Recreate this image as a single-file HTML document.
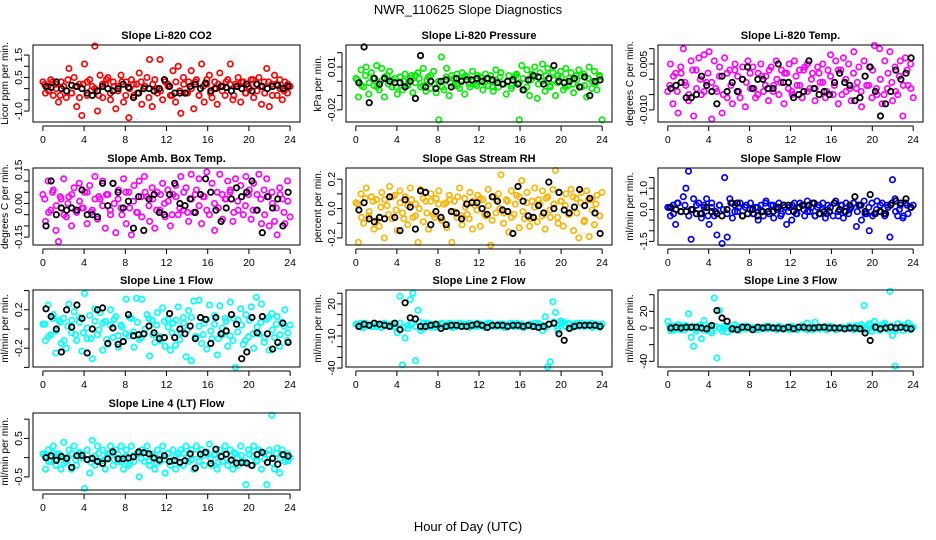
<!DOCTYPE html>
<html><head><meta charset="utf-8"><style>
html,body{margin:0;padding:0;background:#fff}
svg{display:block}
text{font-family:"Liberation Sans",Arial,sans-serif;fill:#000}
</style></head><body>
<svg id="chart" width="936" height="540" viewBox="0 0 936 540" xmlns="http://www.w3.org/2000/svg">
<text x="468" y="14" font-size="13" text-anchor="middle">NWR_110625  Slope Diagnostics</text>
<text x="468" y="531" font-size="13" text-anchor="middle">Hour of Day (UTC)</text>
</svg>
<script>
const xTicks=[0,4,8,12,16,20,24];
const titles=["Slope Li-820 CO2","Slope Li-820 Pressure","Slope Li-820 Temp.","Slope Amb. Box Temp.","Slope Gas Stream RH","Slope Sample Flow","Slope Line 1 Flow","Slope Line 2 Flow","Slope Line 3 Flow","Slope Line 4 (LT) Flow"];
const yTitles=["Licor ppm per min.","kPa per min.","degrees C per min.","degrees C per min.","percent per min.","ml/min per min.","ml/min per min.","ml/min per min.","ml/min per min.","ml/min per min."];
const yTicks=[[-1,-0.5,0,0.5,1,1.5],[-0.02,-0.01,0,0.01,0.02],[-0.01,-0.005,0,0.005,0.01],[-0.15,-0.1,-0.05,0,0.05,0.1,0.15],[-0.2,-0.1,0,0.1,0.2],[-1.5,-1,-0.5,0,0.5,1,1.5],[-0.4,-0.2,0,0.2,0.4],[-40,-30,-20,-10,0,10,20,30],[-40,-20,0,20,40],[-0.5,0,0.5,1]];
const yTickLabels=[["-1.0","","","0.5","","1.5"],["-0.02","","","0.01",""],["-0.010","","","0.005",""],["-0.15","","","0.00","","","0.15"],["-0.2","","0.0","","0.2"],["-1.5","","","0.0","","1.0",""],["","-0.2","","0.2",""],["-40","","","-10","","","20",""],["-40","","0","20",""],["-0.5","","0.5",""]];
const yLims=[[-1.49,1.95],[-0.0285,0.0254],[-0.01395,0.0112],[-0.185,0.158],[-0.248,0.276],[-1.67,1.95],[-0.396,0.406],[-39,33],[-46.8,45.6],[-0.84,1.16]];
const colors=["#ff0000","#00ee00","#ff00ff","#ff00ff","#ffb300","#0000ff","#00ffff","#00ffff","#00ffff","#00ffff"];
const co2=[0.3,-0.2,0.1,0.4,-0.3,0.2,-0.6,0.3,0.1,-0.4,0.9,-0.2,0.5,-0.8,0.2,-1.2,1.1,-0.3,0.4,0.1,1.9,-1.0,0.6,-0.4,0.2,0.5,-0.5,0.3,-0.9,0.1,0.6,-0.6,0.3,-1.3,0.4,-0.3,0.2,0.7,-0.7,0.1,0.5,1.3,-0.8,0.4,-0.2,1.3,-0.5,0.3,0.2,-0.3,0.8,-0.6,1.0,-1.1,0.5,-0.2,0.3,0.8,-0.9,0.4,-0.3,1.1,-0.6,0.2,0.6,-0.4,0.3,-0.7,0.7,0.1,-0.3,0.4,1.1,-0.5,0.2,0.5,-0.6,0.3,-0.2,0.1,0.4,-0.4,0.2,0.5,-0.7,0.3,0.9,-0.8,0.2,0.6,-0.3,0.4,-0.5,0.3,-0.2,0.1];
const co2Core=[0.2,-0.1,0.3,0.0,-0.3,0.1,0.4,-0.2,0.1,-0.4,0.2,0.3,-0.1,0.0,-0.3,0.2,0.4,-0.2,0.1,-0.1,0.3,-0.3,0.0,0.2,-0.2,0.3,0.1,-0.4,0.2,0.0,-0.1,0.4,0.1,-0.3,0.3,-0.1,0.2,-0.2,0.0,0.3,-0.3,0.1,0.4,-0.2,0.0,0.2,-0.1,0.3,0.2,-0.3,0.1,0.3,-0.2,0.0,0.4,-0.1,0.1,-0.2,0.3,-0.3,0.2,0.0,-0.1,0.2];
const co2Ref=[0.1,0.05,0.3,0.0,-0.1,0.15,0.1,0.0,-0.2,-0.3,-0.1,0.1,0.0,-0.1,0.0,0.2,0.05,-0.4,-0.2,0.0,0.0,-0.1,0.0,0.4,0.1,-0.2,-0.2,-0.2,0.1,0.2,0.0,0.25,-0.1,0.0,0.1,0.05,-0.1,0.1,0.0,0.2,-0.1,0.2,0.1,0.0,0.1,0.15,0.0,0.1];
const pres=[0.002,-0.011,0.008,-0.004,0.010,-0.009,0.006,-0.003,0.011,-0.006,0.009,-0.011,0.004,0.007,-0.004,0.002,-0.009,0.003,-0.006,0.005,-0.003,0.002,-0.008,0.004,0.006,-0.004,0.009,-0.007,0.003,-0.005,0.007,-0.008,-0.027,0.017,-0.006,0.009,-0.010,0.004,-0.003,0.005,-0.005,0.006,-0.009,0.003,-0.004,0.007,-0.002,0.004,0.003,-0.006,0.005,-0.003,0.004,-0.007,0.008,-0.004,0.006,-0.002,-0.009,0.004,-0.005,0.003,0.005,-0.027,0.011,-0.006,0.008,-0.010,0.005,0.010,-0.012,0.006,0.012,-0.007,0.009,-0.004,0.006,-0.010,0.004,0.007,-0.006,0.009,-0.003,0.006,-0.008,0.004,0.008,-0.004,0.005,-0.011,0.010,-0.005,0.007,-0.006,0.004,-0.027];
const presCore=[0.001,-0.003,0.004,-0.001,0.002,-0.004,0.000,0.003,-0.002,0.001,-0.004,0.003,0.000,-0.002,0.004,-0.001,0.002,-0.003,0.001,0.004,-0.002,0.000,-0.004,0.003,-0.001,0.002,-0.003,0.001,0.004,-0.002,0.000,-0.003,0.003,-0.001,0.002,-0.004,0.001,0.003,-0.002,0.000,-0.003,0.004,-0.001,0.002,-0.004,0.001,0.003,-0.002,0.000,0.004,-0.003,0.001,-0.001,0.003,-0.004,0.002,-0.002,0.001,0.004,-0.003,0.002,0.000,-0.001,0.003];
const presRef=[-0.001,0.024,-0.015,0.002,-0.002,0.002,0.000,-0.001,-0.001,-0.004,0.000,-0.012,0.018,-0.004,0.000,-0.005,0.000,0.001,-0.004,0.002,0.000,0.001,0.001,0.002,0.000,0.002,0.001,-0.001,-0.002,0.000,0.001,-0.002,-0.006,0.001,0.004,0.003,-0.002,0.002,0.011,0.000,-0.001,0.000,0.002,-0.004,0.003,-0.010,0.000,0.001];
const licTemp=[-0.004,0.005,-0.008,0.002,-0.011,0.004,0.010,-0.002,-0.007,0.006,-0.012,0.003,0.007,-0.005,0.008,-0.001,0.009,-0.013,0.006,-0.004,0.004,-0.011,0.007,-0.006,0.003,-0.008,0.005,0.001,-0.006,0.004,-0.009,0.006,-0.003,0.004,-0.006,0.002,0.005,-0.004,0.001,-0.007,0.004,-0.002,0.006,-0.005,0.003,-0.008,0.002,0.005,-0.004,0.006,-0.002,0.003,-0.006,0.004,0.005,-0.003,0.002,-0.007,0.004,-0.001,0.005,-0.006,0.003,0.008,-0.005,0.006,-0.008,0.003,0.007,-0.004,0.005,-0.007,0.009,-0.003,0.004,-0.009,0.006,-0.002,0.004,-0.006,0.011,-0.005,0.010,-0.008,0.006,-0.003,0.009,-0.007,0.004,-0.005,0.006,-0.012,0.007,-0.002,0.005,-0.006];
const licTempCore=[-0.002,0.001,-0.004,0.002,-0.001,-0.005,0.003,-0.003,0.000,-0.004,0.002,-0.001,-0.003,0.001,-0.005,0.002,-0.002,0.003,-0.004,0.000,-0.001,0.002,-0.003,-0.005,0.001,-0.002,0.003,-0.004,0.000,-0.001,0.002,-0.003,-0.005,0.001,-0.002,0.003,-0.004,0.000,-0.003,0.002,-0.001,-0.004,0.001,-0.002,0.003,-0.005,0.000,-0.003,0.002,-0.001,-0.004,0.001,-0.002,0.003,-0.003,0.000,-0.005,0.002,-0.001,-0.004,0.001,-0.002,0.003,-0.003];
const licTempRef=[-0.003,-0.002,-0.001,-0.006,-0.006,-0.005,0.001,-0.002,-0.004,-0.008,0.001,-0.004,-0.001,-0.004,0.000,0.004,-0.003,0.000,0.000,-0.003,-0.003,0.005,-0.001,-0.001,-0.006,-0.005,-0.004,0.006,-0.003,-0.005,-0.004,-0.005,-0.001,0.002,-0.001,-0.002,-0.007,-0.006,0.001,0.004,-0.004,-0.012,-0.008,-0.004,0.003,0.000,0.002,0.007];
const boxTemp=[0.04,-0.08,0.10,-0.03,0.06,-0.12,-0.17,0.02,0.11,-0.06,0.03,-0.10,0.07,-0.04,0.09,-0.02,0.05,-0.09,0.08,-0.03,0.12,-0.07,0.02,0.10,-0.11,0.04,-0.05,0.09,-0.13,0.06,-0.02,0.11,-0.09,0.05,-0.14,0.08,-0.04,0.10,-0.06,0.12,0.03,-0.08,0.07,-0.11,0.05,-0.03,0.09,-0.06,0.06,-0.10,0.04,0.08,-0.05,0.12,-0.03,0.07,-0.08,0.13,-0.04,0.06,0.11,-0.09,0.03,0.14,-0.05,0.09,-0.12,0.05,0.13,-0.07,0.02,0.10,0.06,-0.08,0.11,-0.03,0.08,-0.05,0.12,0.04,-0.07,0.09,-0.03,0.13,-0.09,0.06,0.11,-0.10,0.05,-0.08,-0.14,0.07,0.02,-0.09,0.10,-0.06];
const boxTempCore=[0.02,-0.04,0.05,-0.01,0.03,-0.05,0.00,0.04,-0.03,0.01,-0.02,0.05,-0.04,0.02,0.03,-0.01,0.04,-0.03,0.00,0.02,-0.05,0.05,-0.02,0.01,-0.04,0.03,0.05,-0.01,0.02,-0.03,0.04,0.00,0.01,-0.05,0.03,-0.02,0.05,-0.04,0.02,0.04,-0.01,0.03,-0.03,0.05,0.00,-0.02,0.04,0.02,0.05,-0.04,0.01,0.03,-0.01,0.06,-0.03,0.04,0.02,-0.05,0.03,0.00,-0.02,0.04,-0.04,0.01];
const boxTempRef=[-0.10,0.10,-0.05,-0.02,-0.03,-0.02,-0.03,0.06,-0.05,-0.05,-0.06,0.09,-0.01,0.09,0.05,-0.02,0.01,-0.11,0.03,-0.12,0.02,0.04,-0.04,-0.05,0.04,0.09,0.00,-0.01,0.02,-0.04,0.04,0.11,0.05,-0.03,-0.08,-0.02,0.02,0.07,0.03,0.05,0.10,-0.03,-0.13,0.03,-0.02,0.02,-0.10,0.05];
const rh=[0.04,-0.23,0.10,-0.10,0.14,-0.05,0.08,-0.14,0.06,-0.12,0.11,-0.20,0.02,0.15,-0.07,0.09,-0.15,0.12,-0.03,0.08,-0.11,0.14,-0.06,0.03,-0.23,0.13,-0.09,0.05,-0.14,0.10,-0.04,0.07,0.12,-0.08,0.03,-0.13,0.09,-0.23,0.05,-0.06,0.14,-0.11,0.07,-0.04,0.11,-0.14,0.02,0.09,-0.12,0.06,-0.05,0.13,-0.25,0.08,-0.03,0.10,0.23,-0.10,0.06,-0.16,0.12,-0.04,0.09,-0.13,0.19,-0.07,0.11,-0.12,0.05,0.14,-0.09,0.03,0.12,-0.14,0.08,-0.06,0.13,0.26,-0.10,0.05,-0.12,0.10,-0.04,0.13,-0.15,0.07,-0.20,0.11,-0.09,0.12,-0.19,0.06,-0.11,0.09,-0.05,0.11];
const rhCore=[0.03,-0.06,0.07,-0.02,0.05,-0.08,0.01,0.06,-0.04,0.08,-0.01,0.04,-0.07,0.02,0.06,-0.05,0.00,0.07,-0.03,0.05,-0.06,0.03,-0.08,0.04,0.06,-0.02,0.08,-0.05,0.01,-0.07,0.05,-0.01,0.07,-0.04,0.02,-0.08,0.06,0.00,-0.03,0.05,-0.06,0.03,0.08,-0.02,0.04,-0.07,0.01,0.06,-0.05,0.07,-0.01,0.03,-0.06,0.05,0.02,-0.04,0.08,-0.03,0.04,-0.08,0.06,-0.01,0.03,-0.05];
const rhRef=[-0.01,0.04,-0.07,-0.09,-0.06,-0.07,0.08,-0.06,-0.15,0.06,0.01,-0.14,0.12,0.11,-0.11,-0.02,-0.06,-0.11,-0.02,-0.03,-0.07,0.03,0.04,0.04,0.00,-0.04,0.08,0.05,-0.01,-0.02,-0.17,0.15,0.05,-0.05,-0.06,0.02,-0.03,0.18,0.00,0.11,-0.01,-0.03,0.01,0.13,0.02,0.07,-0.03,-0.17];
const sampleFlow=[0.1,-0.3,0.2,-0.7,0.3,-0.1,0.6,1.0,1.8,-1.4,0.5,-0.2,0.3,-0.4,0.2,0.5,-0.7,0.1,-0.3,-1.2,0.2,-1.6,1.5,-1.3,0.5,-0.4,0.2,-0.1,0.3,-0.3,0.1,-0.2,0.3,-0.2,0.1,-0.5,0.2,-0.3,0.4,-0.1,0.2,-0.4,0.1,0.3,-0.2,0.2,-0.7,0.1,-0.5,0.3,-0.2,0.1,0.2,-0.3,0.4,-0.1,0.3,-0.3,0.1,-0.2,0.3,-0.4,0.2,0.1,-0.3,0.4,-0.1,0.2,-0.4,0.3,-0.2,0.1,0.3,-0.8,0.2,-0.5,0.4,-0.2,-1.0,0.3,-0.2,0.4,-0.1,0.3,-0.3,0.2,-1.3,1.4,0.5,-0.3,0.2,-0.4,0.3,-0.2,0.1,0.2];
const sampleFlowCore=[0.1,-0.2,0.3,-0.1,0.2,-0.3,0.0,0.2,-0.2,0.1,-0.3,0.3,-0.1,0.2,0.0,-0.2,0.3,-0.1,0.1,-0.3,0.2,0.0,-0.2,0.1,-0.1,0.3,-0.2,0.2,0.0,-0.3,0.1,-0.1,0.2,-0.2,0.3,0.0,-0.1,0.1,-0.3,0.2,0.0,-0.2,0.1,0.3,-0.3,0.2,-0.1,0.0,0.3,-0.1,0.2,-0.2,0.1,-0.3,0.0,0.2,-0.2,0.1,0.3,-0.1,0.0,-0.3,0.2,0.1];
const sampleFlowRef=[0.1,0.0,-0.1,-0.1,0.0,-0.2,-0.2,0.1,-0.1,-0.2,-0.3,0.0,0.3,0.3,-0.3,-0.2,0.0,-0.3,-0.1,-0.1,-0.1,0.1,0.2,0.2,-0.1,0.1,0.2,0.2,0.3,-0.2,-0.1,-0.1,0.3,0.0,-0.1,0.2,0.6,0.2,-0.1,0.7,-0.2,-0.1,-0.2,0.2,0.4,0.3,0.5,0.1];
const line1=[0.05,-0.12,0.25,-0.06,0.15,-0.25,0.09,-0.15,0.11,-0.20,0.26,-0.04,0.18,-0.12,0.07,-0.23,0.37,-0.10,0.14,-0.31,0.21,-0.06,0.17,-0.22,0.08,-0.16,0.20,-0.09,0.13,-0.19,0.04,-0.13,0.31,-0.07,0.11,-0.19,0.32,-0.11,0.31,-0.05,0.15,-0.28,0.09,-0.14,0.17,-0.08,0.22,-0.18,0.10,-0.22,0.06,-0.17,0.23,-0.04,0.12,-0.29,0.19,-0.33,0.29,-0.08,0.30,-0.15,0.06,-0.21,0.25,-0.10,0.14,-0.27,0.24,-0.06,0.11,-0.18,0.28,-0.12,-0.40,0.09,0.21,-0.16,0.15,-0.08,0.23,-0.20,0.33,-0.05,0.26,-0.14,0.10,-0.22,0.16,-0.09,0.13,-0.18,0.07,0.20,-0.12,0.04];
const line1Core=[0.05,-0.08,0.11,-0.02,0.07,-0.12,0.03,0.09,-0.06,0.12,-0.04,0.01,-0.10,0.08,-0.01,0.06,-0.11,0.04,0.10,-0.07,0.02,-0.05,0.12,-0.03,0.07,-0.09,0.00,0.11,-0.06,0.04,-0.12,0.08,0.02,-0.04,0.09,-0.11,0.06,-0.01,0.12,-0.08,0.03,-0.06,0.10,-0.02,0.05,-0.10,0.01,0.08,-0.07,0.11,-0.03,0.04,-0.12,0.09,-0.05,0.02,0.07,-0.09,0.12,-0.01,0.05,-0.06,0.03,-0.04];
const line1Ref=[0.21,0.13,0.00,-0.24,0.20,0.02,0.25,0.11,-0.25,0.00,0.20,0.22,-0.15,0.01,-0.16,-0.13,0.15,-0.07,-0.06,-0.05,0.03,-0.04,-0.10,-0.09,0.16,-0.09,0.00,-0.05,0.03,-0.10,0.12,0.10,-0.15,0.12,-0.05,-0.02,0.15,0.05,-0.31,-0.24,0.12,-0.04,0.13,-0.05,-0.21,-0.14,0.06,-0.14];
const line2=[1,-1,2,-2,1,0,-1,2,-1,1,-2,2,0,-1,1,-2,-7,27,-37,-12,-3,24,30,-33,14,-5,2,-1,1,-2,0,1,-1,2,-1,1,0,-2,1,-1,2,-1,1,0,-2,1,-1,2,0,-1,1,-2,2,-1,0,1,-1,1,-2,1,0,-1,2,-1,1,-2,0,1,-1,2,-1,0,-5,8,-39,-34,22,12,-5,4,3,-1,2,-2,1,0,-1,2,-1,1,0,2,-1,1,-2,1];
const line2Core=[1,-2,2,0,-1,1,-2,2,0,1,-1,2,-2,0,1,-1,3,-3,2,1,-2,0,1,-1,2,-2,0,1,-1,2,0,-1,1,-2,2,0,-1,1,-2,0,2,-1,1,-2,0,1,-1,2,0,-2,1,3,-3,2,-1,1,-2,2,0,-1,1,-2,1,0];
const line2Ref=[-1,1,0,2,1,0,-1,2,-4,21,7,6,-1,-1,0,1,-3,-1,0,0,-1,-1,0,1,0,-2,0,0,0,-1,0,0,-1,0,-1,-2,-1,1,2,-8,-14,-3,-1,0,0,0,0,-1];
const line3=[8,-3,2,-1,4,-2,1,3,17,-11,-22,-4,2,-13,9,-3,2,-6,36,-36,21,-4,2,-5,1,-2,0,1,-1,2,-1,0,1,-2,0,1,-1,0,2,-1,0,1,-1,2,0,-1,1,-2,1,0,-2,1,3,-1,6,0,-2,7,1,-1,0,2,-1,0,1,-2,0,1,-1,0,2,-1,-2,3,1,4,27,-1,5,-4,8,2,-3,4,6,0,44,-9,-46,5,1,-3,3,6,-2,1];
const line3Core=[2,-3,1,3,-2,0,2,-1,3,-2,1,-3,2,0,-1,1,-2,4,-3,1,2,-1,0,-2,1,-1,2,0,-2,1,-1,0,2,-1,0,1,-2,1,0,-1,1,-2,2,0,-1,1,-1,2,0,-1,1,-2,2,0,1,-1,3,-2,2,-3,1,3,-1,2];
const line3Ref=[0,1,0,1,1,1,0,-1,3,21,12,8,-1,-2,1,1,-2,1,0,1,0,0,-1,1,-1,1,1,0,0,1,1,0,0,0,-1,0,0,-1,-6,-15,1,-1,0,1,0,1,0,-1];
const line4=[0.1,-0.3,0.2,-0.1,0.3,-0.2,0.1,-0.3,0.4,-0.1,0.2,-0.3,0.3,-0.2,0.1,0.0,-0.8,0.2,-0.4,0.45,-0.2,0.3,-0.1,0.2,-0.3,0.1,0.3,-0.2,0.2,-0.1,0.3,-0.3,0.2,-0.2,0.3,-0.1,0.1,-0.5,0.2,-0.1,0.3,-0.2,0.1,-0.3,0.2,-0.1,0.3,-0.4,0.1,-0.2,0.2,-0.3,0.1,0.2,-0.2,0.3,-0.1,0.2,-0.3,0.3,-0.1,0.2,-0.2,0.1,0.35,-0.2,0.1,-0.3,0.2,-0.1,0.3,-0.2,0.2,-0.3,0.1,-0.2,0.3,-0.1,-0.7,0.2,-0.2,0.3,-0.1,0.2,-0.3,0.1,-0.7,0.2,1.1,-0.3,0.25,-0.4,0.2,-0.1,0.1,0.0];
const line4Core=[0.05,-0.10,0.12,-0.03,0.08,-0.15,0.02,0.10,-0.06,0.14,-0.01,0.07,-0.12,0.04,0.11,-0.08,0.00,0.13,-0.05,0.09,-0.11,0.03,-0.14,0.06,0.10,-0.02,0.15,-0.09,0.01,-0.13,0.08,-0.04,0.12,-0.07,0.03,-0.15,0.11,0.00,-0.05,0.09,-0.10,0.05,0.14,-0.03,0.07,-0.12,0.02,0.10,-0.08,0.13,-0.01,0.06,-0.11,0.09,0.04,-0.06,0.15,-0.04,0.08,-0.14,0.11,-0.02,0.05,-0.09];
const line4Ref=[0.0,0.05,-0.07,0.03,-0.02,-0.25,0.05,0.06,-0.05,-0.02,-0.10,-0.15,-0.03,0.15,-0.03,-0.03,-0.01,0.02,0.15,0.13,0.10,-0.01,-0.06,0.05,-0.10,-0.07,-0.12,-0.08,0.10,-0.27,0.09,0.14,-0.15,0.22,0.03,0.09,-0.06,-0.14,-0.13,-0.14,-0.20,0.08,0.14,-0.12,-0.02,-0.17,0.08,0.04];

const seriesColored=[co2,pres,licTemp,boxTemp,rh,sampleFlow,line1,line2,line3,line4];
const seriesCore=[co2Core,presCore,licTempCore,boxTempCore,rhCore,sampleFlowCore,line1Core,line2Core,line3Core,line4Core];
const seriesBlack=[co2Ref,presRef,licTempRef,boxTempRef,rhRef,sampleFlowRef,line1Ref,line2Ref,line3Ref,line4Ref];
const slugs=["co2","pressure","licor-temp","box-temp","gas-rh","sample-flow","line1-flow","line2-flow","line3-flow","line4-flow"];

const NS="http://www.w3.org/2000/svg";
const svg=document.getElementById("chart");
const colL=[33,346,658], colW=[267,266,265], rowT=[45,168,290,413], H=77;
function mk(tag,attrs,parent){const e=document.createElementNS(NS,tag);for(const k in attrs)e.setAttribute(k,attrs[k]);(parent||svg).appendChild(e);return e;}

for(let p=0;p<10;p++){
  const L=colL[p%3], W=colW[p%3], T=rowT[Math.floor(p/3)], B=T+H;
  const g=mk("g",{});
  
  
  const x0=-0.96, x1=24.96;
  const xs=v=>L+(v-x0)/(x1-x0)*W;
  const [ymin,ymax]=yLims[p];
  const ys=v=>B-(v-ymin)/(ymax-ymin)*H;
  const cg=mk("g",{fill:"none",stroke:colors[p],"stroke-width":"1.7"},g);
  
  
  const cv=seriesColored[p];
  cv.forEach((v,i)=>{
    const c=mk("circle",{cx:xs(i*24/(cv.length-1)).toFixed(1),cy:ys(v).toFixed(1),r:"2.7"},cg);
    
    
  });
  const kv=seriesCore[p];
  kv.forEach((v,i)=>{
    const c=mk("circle",{cx:xs(0.18+i*23.6/(kv.length-1)).toFixed(1),cy:ys(v).toFixed(1),r:"2.7"},cg);
    
    
  });
  const bg=mk("g",{fill:"none",stroke:"#000","stroke-width":"1.8"},g);
  
  
  const bv=seriesBlack[p];
  bv.forEach((v,i)=>{
    const c=mk("circle",{cx:xs(0.3+i*0.5).toFixed(1),cy:ys(v).toFixed(1),r:"2.7"},bg);
    
    
  });
  const rect=mk("rect",{x:L,y:T,width:W,height:H,fill:"none",stroke:"#000","stroke-width":"1"},g);
  
  
  const t=mk("text",{x:L+W/2,y:T-6,"font-size":"11","font-weight":"bold","text-anchor":"middle"},g);
  t.textContent=titles[p];
  
  
  const xa=mk("g",{},g);
  
  
  mk("line",{x1:xs(0),x2:xs(24),y1:B+4,y2:B+4,stroke:"#000"},xa);
  xTicks.forEach(v=>{
    mk("line",{x1:xs(v),x2:xs(v),y1:B+4,y2:B+9,stroke:"#000"},xa);
    const tx=mk("text",{x:xs(v),y:B+21,"font-size":"10.5","text-anchor":"middle"},xa);
    tx.textContent=v;
    
    
  });
  const ya=mk("g",{},g);
  
  
  const tk=yTicks[p];
  mk("line",{x1:L-4,x2:L-4,y1:ys(tk[0]),y2:ys(tk[tk.length-1]),stroke:"#000"},ya);
  tk.forEach((v,i)=>{
    mk("line",{x1:L-9,x2:L-4,y1:ys(v),y2:ys(v),stroke:"#000"},ya);
    const lab=yTickLabels[p][i];
    if(lab){
      const yy=ys(v);
      const tx=mk("text",{x:L-11,y:yy,"font-size":"10.5","text-anchor":"middle",transform:`rotate(-90 ${L-11} ${yy})`},ya);
      tx.textContent=lab;
      
      
    }
  });
  const yl=mk("text",{x:L-25,y:T+H/2,"font-size":"10","text-anchor":"middle",transform:`rotate(-90 ${L-25} ${T+H/2})`},ya);
  yl.textContent=yTitles[p];
  
  
}
</script>
</body></html>
